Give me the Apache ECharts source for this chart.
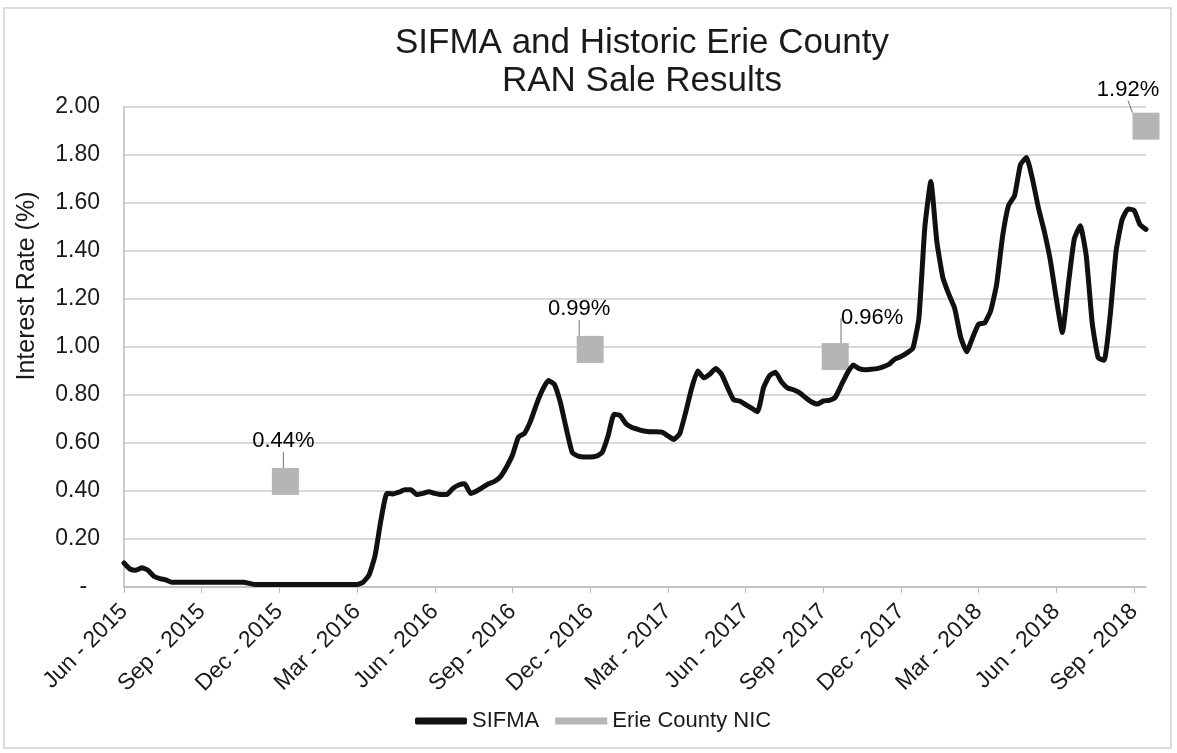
<!DOCTYPE html>
<html>
<head>
<meta charset="utf-8">
<title>SIFMA and Historic Erie County RAN Sale Results</title>
<script src="https://cdn.jsdelivr.net/npm/echarts@6/dist/echarts.min.js"></script>
<style>
  html, body { margin: 0; padding: 0; background: #fff; }
  #main { width: 1177px; height: 753px; }
</style>
</head>
<body>
<div id="main"></div>
<script>
// weekly SIFMA resets, first reset of the chart
var firstWeek = new Date(Date.UTC(2015, 5, 3));

// quarter labels, one every 13 weeks
var tickLabels = [
  'Jun - 2015', 'Sep - 2015', 'Dec - 2015', 'Mar - 2016', 'Jun - 2016',
  'Sep - 2016', 'Dec - 2016', 'Mar - 2017', 'Jun - 2017', 'Sep - 2017',
  'Dec - 2017', 'Mar - 2018', 'Jun - 2018', 'Sep - 2018'
];

// SIFMA index (%), weekly
var sifma = [
  0.10, 0.075, 0.07, 0.08, 0.07, 0.045, 0.035, 0.03, 0.02, 0.02,
  0.02, 0.02, 0.02, 0.02, 0.02, 0.02, 0.02, 0.02, 0.02, 0.02,
  0.02, 0.015, 0.01, 0.01, 0.01, 0.01, 0.01, 0.01, 0.01, 0.01,
  0.01, 0.01, 0.01, 0.01, 0.01, 0.01, 0.01, 0.01, 0.01, 0.01,
  0.02, 0.05, 0.13, 0.28, 0.39, 0.388, 0.395, 0.405, 0.405, 0.385,
  0.39, 0.397, 0.39, 0.385, 0.385, 0.41, 0.425, 0.43, 0.39, 0.40,
  0.415, 0.43, 0.44, 0.46, 0.50, 0.55, 0.625, 0.64, 0.69, 0.76,
  0.82, 0.86, 0.845, 0.77, 0.66, 0.56, 0.545, 0.542, 0.542, 0.545,
  0.56, 0.63, 0.72, 0.715, 0.68, 0.665, 0.657, 0.65, 0.647, 0.647,
  0.645, 0.63, 0.615, 0.64, 0.73, 0.83, 0.90, 0.872, 0.886, 0.91,
  0.886, 0.83, 0.78, 0.775, 0.76, 0.745, 0.73, 0.83, 0.88, 0.895,
  0.855, 0.83, 0.822, 0.81, 0.79, 0.772, 0.762, 0.775, 0.778, 0.79,
  0.84, 0.89, 0.925, 0.91, 0.905, 0.907, 0.91, 0.917, 0.928, 0.95,
  0.96, 0.975, 0.995, 1.12, 1.50, 1.69, 1.44, 1.29, 1.22, 1.16,
  1.04, 0.98, 1.04, 1.095, 1.10, 1.15, 1.26, 1.46, 1.59, 1.63,
  1.76, 1.79, 1.70, 1.58, 1.48, 1.36, 1.20, 1.06, 1.26, 1.45,
  1.505, 1.38, 1.10, 0.955, 0.945, 1.13, 1.40, 1.53, 1.575, 1.57,
  1.51, 1.49
];

// Erie County RAN sales: week index and NIC (%)
var nicWeek = [27, 78, 119, 171];
var nicValues = [0.44, 0.99, 0.96, 1.92];

// where each data label was dragged to, relative to its default spot above the marker
var nicLabelShift = [[-2, -11], [-11, -11], [37, -9], [-18, -7]];

var weeks = [];
for (var i = 0; i < sifma.length; i++) {
  var d = new Date(firstWeek.getTime() + i * 7 * 86400000);
  weeks.push(d.toISOString().slice(0, 10));
}

var nicData = nicWeek.map(function (w, i) { return [w, nicValues[i]]; });

var font = '"Liberation Sans", Arial, sans-serif';
var myChart = echarts.init(document.getElementById('main'));

myChart.setOption({
  backgroundColor: '#fff',
  animation: false,
  textStyle: { fontFamily: font, color: '#1a1a1a' },
  title: {
    text: 'SIFMA and Historic Erie County\nRAN Sale Results',
    left: 637,
    top: 19,
    textAlign: 'center',
    textStyle: { fontFamily: font, fontSize: 35, fontWeight: 'normal', color: '#1a1a1a', lineHeight: 38 }
  },
  graphic: [{
    type: 'rect',
    shape: { x: 4, y: 8, width: 1167, height: 740 },
    style: { fill: 'none', stroke: '#cfcfcf', lineWidth: 1.5 },
    silent: true
  }],
  legend: {
    left: 410,
    top: 705,
    itemWidth: 52,
    itemHeight: 7,
    itemGap: 16,
    data: [
      { name: 'SIFMA', icon: 'roundRect' },
      { name: 'Erie County NIC', icon: 'rect' }
    ],
    textStyle: { fontFamily: font, fontSize: 22, color: '#1a1a1a' }
  },
  grid: { left: 124, right: 31, top: 107, bottom: 166 },
  xAxis: {
    type: 'category',
    data: weeks,
    boundaryGap: false,
    axisLine: { lineStyle: { color: '#bdbdbd', width: 1.5 } },
    axisTick: { interval: 12, length: 6, lineStyle: { color: '#bdbdbd' } },
    axisLabel: {
      interval: 12,
      rotate: 45,
      margin: 21,
      fontSize: 23,
      color: '#1a1a1a',
      fontFamily: font,
      formatter: function (v, idx) { return tickLabels[Math.round(idx / 13)]; }
    },
    splitLine: { show: false }
  },
  yAxis: {
    type: 'value',
    min: 0,
    max: 2,
    interval: 0.2,
    name: 'Interest Rate (%)',
    nameLocation: 'middle',
    nameGap: 84,
    nameTextStyle: { fontFamily: font, fontSize: 25, color: '#1a1a1a', padding: [0, 0, 0, 122] },
    axisLine: { show: true, lineStyle: { color: '#bdbdbd', width: 1.5 } },
    axisTick: { show: false },
    axisLabel: {
      margin: 24,
      fontSize: 23,
      color: '#1a1a1a',
      fontFamily: font,
      formatter: function (v) { return v === 0 ? '-  ' : v.toFixed(2); }
    },
    splitLine: { lineStyle: { color: '#cccccc', width: 1.5 } }
  },
  series: [
    {
      name: 'SIFMA',
      type: 'line',
      data: sifma,
      color: '#111',
      symbol: 'none',
      smooth: 0.15,
      z: 3,
      lineStyle: { color: '#111', width: 5, cap: 'round', join: 'round' }
    },
    {
      name: 'Erie County NIC',
      type: 'scatter',
      data: nicData,
      color: '#b5b5b5',
      symbol: 'rect',
      symbolSize: 27,
      z: 2,
      itemStyle: { color: '#b5b5b5', opacity: 1 },
      label: {
        show: true,
        position: 'top',
        distance: 5,
        opacity: 1,
        fontFamily: font,
        fontSize: 22,
        color: '#000',
        formatter: function (p) { return nicValues[p.dataIndex].toFixed(2) + '%'; }
      },
      labelLayout: function (p) {
        var s = nicLabelShift[p.dataIndex];
        return { dx: s[0], dy: s[1] };
      },
      labelLine: { show: true, lineStyle: { color: '#707070', width: 1 } }
    }
  ]
});
</script>
</body>
</html>
